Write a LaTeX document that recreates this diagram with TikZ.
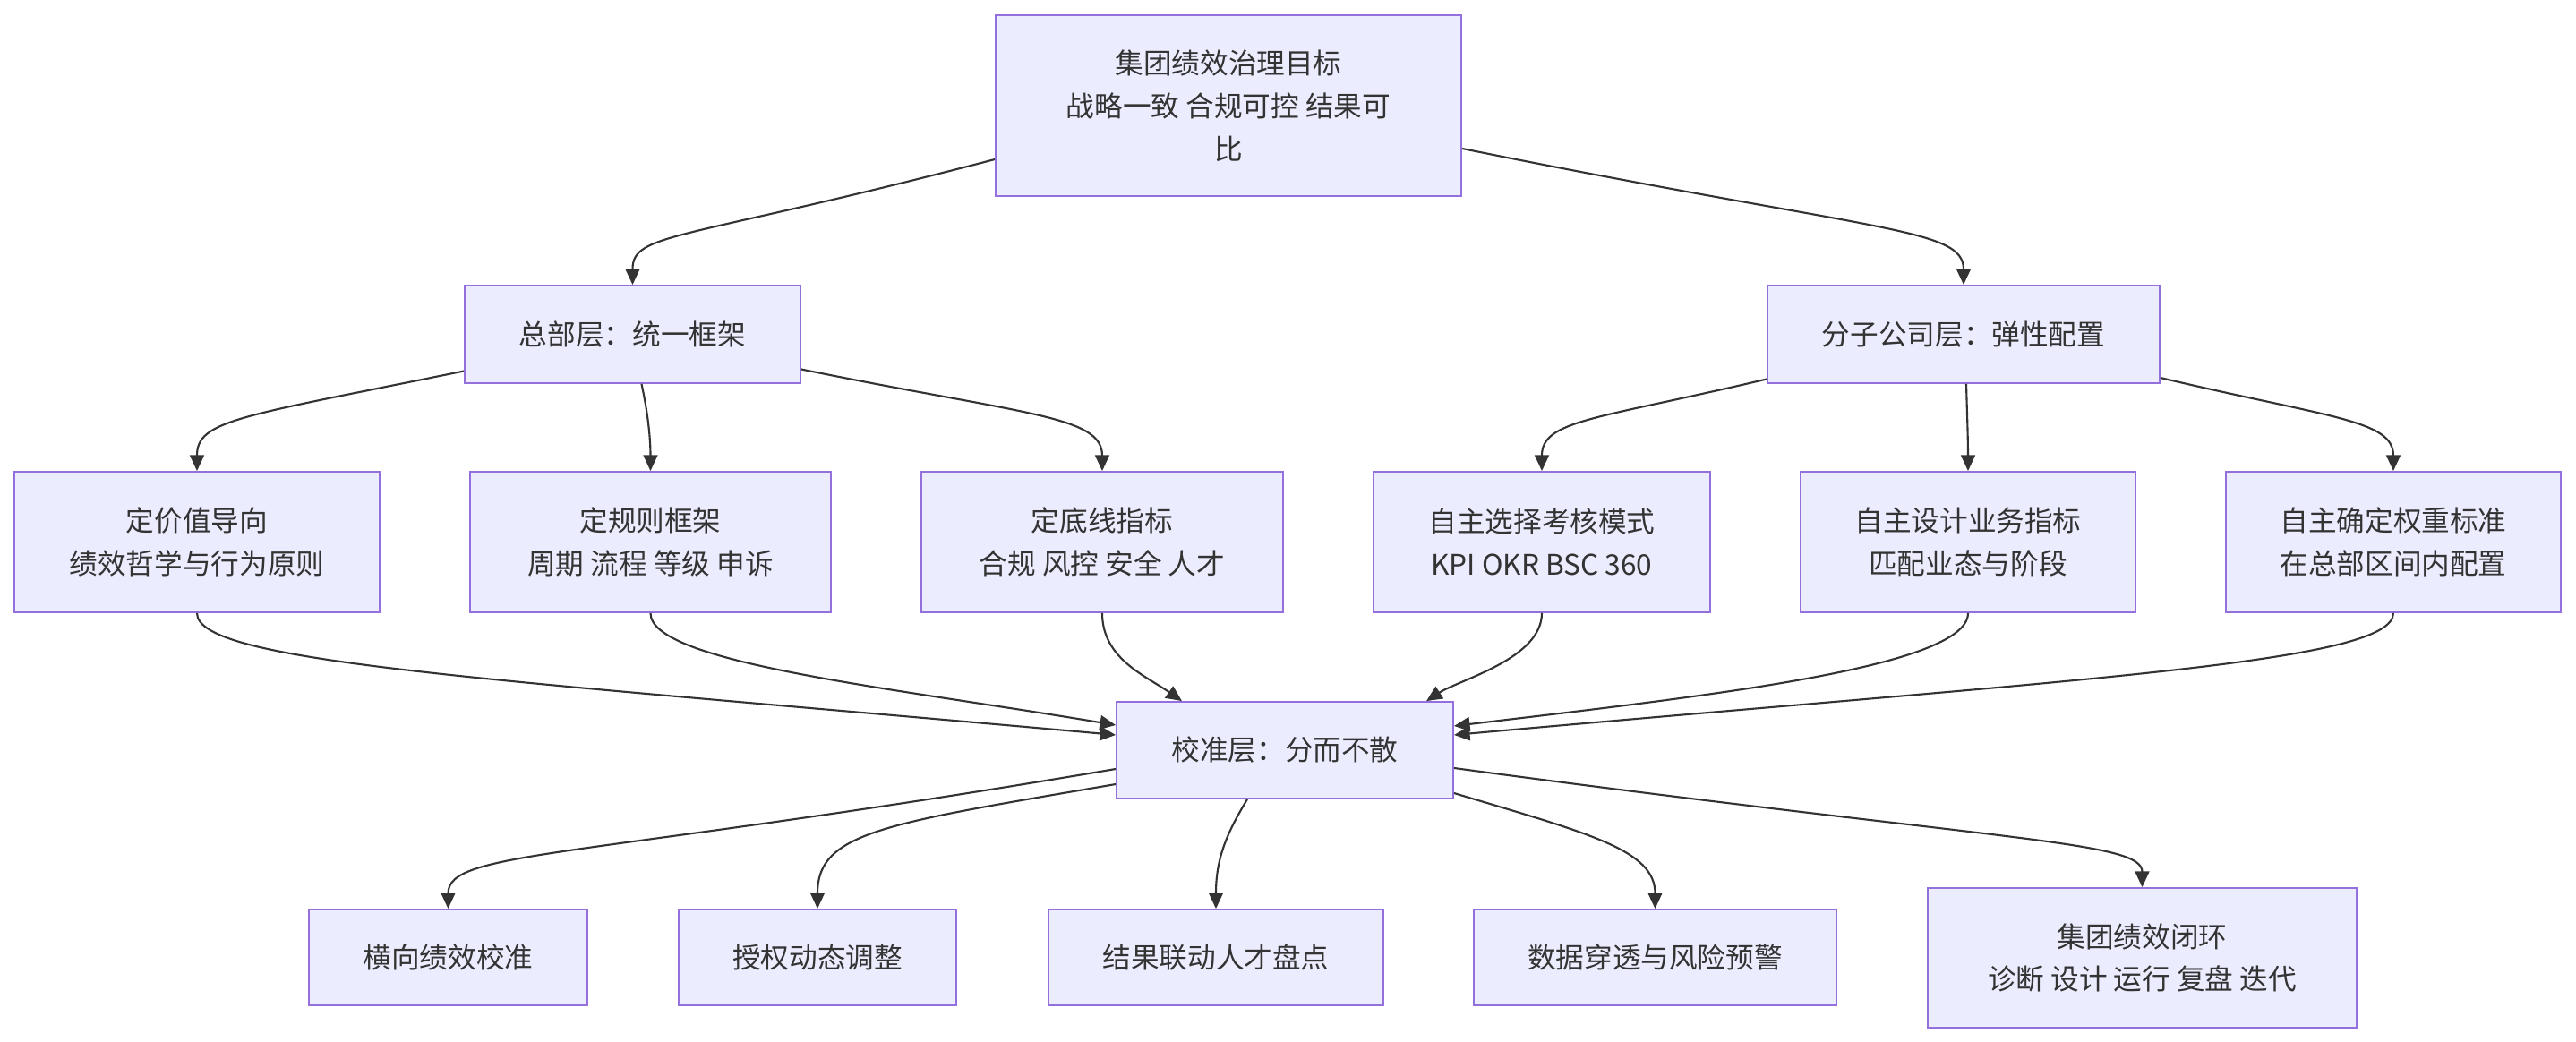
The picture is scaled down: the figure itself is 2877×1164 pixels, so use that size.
\documentclass[tikz,border=0pt]{standalone}
\usepackage{fontspec}
\setmainfont{Noto Sans CJK SC}
\usetikzlibrary{arrows.meta}
\definecolor{nodefill}{HTML}{ECECFF}
\definecolor{nodeline}{HTML}{9370DB}
\definecolor{txt}{HTML}{333333}
\begin{document}
\begin{tikzpicture}[x=0.01cm,y=-0.01cm,
  box/.style={draw=nodeline, fill=nodefill, line width=0.5pt, text=txt, align=center,
    inner sep=0pt, font=\fontsize{9pt}{13.6pt}\selectfont},
  edge/.style={draw=txt, line width=0.6pt, -{Triangle[length=5pt,width=4.5pt]}}]
\fill[white] (0,0) rectangle (2877,1164);
\useasboundingbox (0,0) rectangle (2877,1164);

% nodes
\node[box, minimum width=5.2cm, minimum height=2.02cm] (top) at (1372,118) {集团绩效治理目标\\战略一致 合规可控 结果可\\比};
\node[box, minimum width=3.75cm, minimum height=1.09cm] (hq) at (706.5,373.5) {总部层：统一框架};
\node[box, minimum width=4.38cm, minimum height=1.09cm] (sub) at (2193,373.5) {分子公司层：弹性配置};

\node[box, minimum width=4.08cm, minimum height=1.57cm] (r1) at (220,605.5) {定价值导向\\绩效哲学与行为原则};
\node[box, minimum width=4.03cm, minimum height=1.57cm] (r2) at (726.5,605.5) {定规则框架\\周期 流程 等级 申诉};
\node[box, minimum width=4.04cm, minimum height=1.57cm] (r3) at (1231,605.5) {定底线指标\\合规 风控 安全 人才};
\node[box, minimum width=3.76cm, minimum height=1.57cm] (r4) at (1722,605.5) {自主选择考核模式\\KPI OKR BSC 360};
\node[box, minimum width=3.74cm, minimum height=1.57cm] (r5) at (2198,605.5) {自主设计业务指标\\匹配业态与阶段};
\node[box, minimum width=3.74cm, minimum height=1.57cm] (r6) at (2673,605.5) {自主确定权重标准\\在总部区间内配置};

\node[box, minimum width=3.76cm, minimum height=1.08cm] (cal) at (1435,838) {校准层：分而不散};

\node[box, minimum width=3.11cm, minimum height=1.07cm] (b1) at (500.5,1069.5) {横向绩效校准};
\node[box, minimum width=3.10cm, minimum height=1.07cm] (b2) at (913,1069.5) {授权动态调整};
\node[box, minimum width=3.74cm, minimum height=1.07cm] (b3) at (1358,1069.5) {结果联动人才盘点};
\node[box, minimum width=4.05cm, minimum height=1.07cm] (b4) at (1848.5,1069.5) {数据穿透与风险预警};
\node[box, minimum width=4.79cm, minimum height=1.56cm] (b5) at (2392.5,1070) {集团绩效闭环\\诊断 设计 运行 复盘 迭代};

% edges: top level
\draw[edge] ([yshift=-0.60cm]top.west) .. controls +(-352,92) and +(0,-59) .. (hq.north);
\draw[edge] ([yshift=-0.48cm]top.east) .. controls +(467,94) and +(0,-64) .. (sub.north);

% hq children
\draw[edge] ([yshift=-0.41cm]hq.west) .. controls +(-250,51) and +(0,-57) .. (r1.north);
\draw[edge] ([xshift=0.1cm]hq.south) .. controls +(7,32) and +(0,-37) .. (r2.north);
\draw[edge] ([yshift=-0.39cm]hq.east) .. controls +(250,51) and +(0,-62) .. (r3.north);

% sub children
\draw[edge] ([yshift=-0.50cm]sub.west) .. controls +(-190,45) and +(0,-57) .. (r4.north);
\draw[edge] ([xshift=0.03cm]sub.south) .. controls +(1,35) and +(0,-35) .. (r5.north);
\draw[edge] ([yshift=-0.485cm]sub.east) .. controls +(190,45) and +(0,-57) .. (r6.north);

% into calibration
\draw[edge] (r1.south) .. controls +(0,56) and +(-700,-63) .. ([yshift=0.17cm]cal.west);
\draw[edge] (r2.south) .. controls +(0,56) and +(-250,-42) .. ([yshift=0.28cm]cal.west);
\draw[edge] (r3.south) .. controls +(0,51) and +(-40,-28) .. ([xshift=-1.15cm]cal.north);
\draw[edge] (r4.south) .. controls +(0,51) and +(37,-24) .. ([xshift=1.58cm]cal.north);
\draw[edge] (r5.south) .. controls +(0,61) and +(277,-33) .. ([yshift=0.27cm]cal.east);
\draw[edge] (r6.south) .. controls +(0,56) and +(700,-63) .. ([yshift=0.17cm]cal.east);

% out of calibration
\draw[edge] ([yshift=-0.21cm]cal.west) .. controls +(-597,101) and +(0,-66) .. (b1.north);
\draw[edge] ([yshift=-0.38cm]cal.west) .. controls +(-257,44) and +(0,-86) .. (b2.north);
\draw[edge] ([xshift=-0.42cm]cal.south) .. controls +(-23,38) and +(0,-56) .. (b3.north);
\draw[edge] ([yshift=-0.48cm]cal.east) .. controls +(150,45) and +(0,-66) .. (b4.north);
\draw[edge] ([yshift=-0.20cm]cal.east) .. controls +(620,83) and +(0,-52) .. (b5.north);
\end{tikzpicture}
\end{document}
